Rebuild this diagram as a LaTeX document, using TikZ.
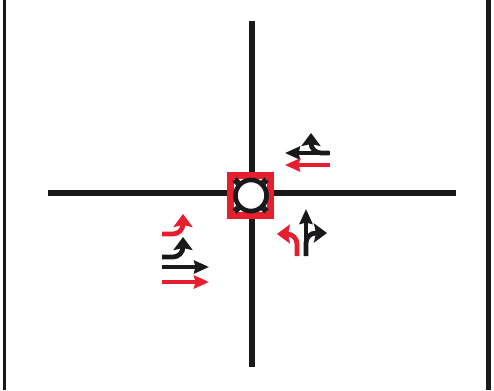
\documentclass[tikz,border=0pt]{standalone}
\usepackage{tikz}
\usetikzlibrary{arrows.meta}
\definecolor{sigred}{RGB}{230,30,45}
\definecolor{sigblack}{RGB}{25,25,28}
\begin{document}
\begin{tikzpicture}[x=0.02cm, y=-0.02cm,
  road/.style={draw=sigblack, line width=0.105cm},
  frame/.style={draw=sigblack, line width=0.07cm},
  spoke/.style={draw=sigblack, line width=0.12cm},
  thru/.style={-{Stealth[length=3mm,width=2.6mm,inset=0.3mm]}, line width=0.075cm},
  turn/.style={-{Stealth[length=2.6mm,width=3.8mm,inset=0.4mm]}, line width=0.095cm, rounded corners=0.2cm},
  hubsq/.style={draw=sigred, line width=0.13cm, fill=white, minimum size=0.8cm, inner sep=0pt, shape=rectangle},
  hubring/.style={draw=sigblack, fill=white, line width=0.09cm, circle, minimum size=0.62cm, inner sep=0pt}]
\useasboundingbox (0,0) rectangle (494,390);
% page edges
\coordinate (lt) at (4.5,0);
\coordinate (lb) at (4.5,390);
\coordinate (rt) at (488.5,0);
\coordinate (rb) at (488.5,390);
\draw[frame] (lt) -- (lb);
\draw[frame, line width=0.1cm] (rt) -- (rb);
% roads
\coordinate (north) at (252,21);
\coordinate (south) at (252,367);
\coordinate (west) at (48,193);
\coordinate (east) at (456,193);
\draw[road] (north) -- (south);
\draw[road] (west) -- (east);
% junction
\node[hubsq] (sq) at (250.5,195.5) {};
\coordinate (c1) at (234.5,179.5);
\coordinate (c2) at (266.5,179.5);
\coordinate (c3) at (234.5,211.5);
\coordinate (c4) at (266.5,211.5);
\node[hubring] (hub) at (251,195.5) {};
\draw[spoke] (c1) -- (hub);
\draw[spoke] (c2) -- (hub);
\draw[spoke] (c3) -- (hub);
\draw[spoke] (c4) -- (hub);
\node[hubring] (ring) at (251,195.5) {};
% east approach
\coordinate (ea) at (330,153);
\coordinate (eb) at (285,153);
\coordinate (ec) at (330,165);
\coordinate (ed) at (285,165);
\coordinate (ee) at (329,153);
\coordinate (ef) at (311,133);
\draw[thru, sigblack] (ea) -- (eb);
\draw[turn, sigblack] (ee) -| (ef);
\draw[thru, sigred] (ec) -- (ed);
% south approach
\coordinate (sa) at (306,256);
\coordinate (sb) at (306,209);
\coordinate (sc) at (306,256);
\coordinate (sd) at (327,233);
\coordinate (se) at (297,256);
\coordinate (sf) at (277,234);
\draw[thru, sigblack] (sa) -- (sb);
\draw[turn, sigblack] (sc) |- (sd);
\draw[turn, sigred] (se) |- (sf);
% west approach
\coordinate (wa) at (162,234);
\coordinate (wb) at (183,214);
\coordinate (wc) at (162,257);
\coordinate (wd) at (183,237);
\coordinate (we) at (162,267);
\coordinate (wf) at (209,267);
\coordinate (wg) at (162,282);
\coordinate (wh) at (209,282);
\draw[turn, sigred] (wa) -| (wb);
\draw[turn, sigblack] (wc) -| (wd);
\draw[thru, sigblack] (we) -- (wf);
\draw[thru, sigred] (wg) -- (wh);
\end{tikzpicture}
\end{document}
